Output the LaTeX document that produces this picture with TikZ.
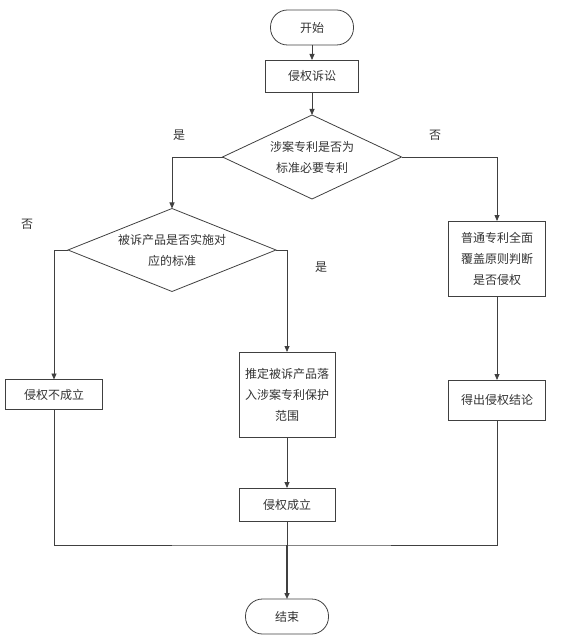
\documentclass[tikz,border=0pt]{standalone}
\usepackage{fontspec}
\newfontfamily\cjk{Noto Sans CJK SC}
\usetikzlibrary{shapes.geometric, positioning, arrows.meta}

\begin{document}
\begin{tikzpicture}[
        x=1pt, y=-1pt, line width=0.8pt,
        every node/.style={font=\cjk\fontsize{12pt}{21pt}\selectfont, align=center, text=black!80, outer sep=0pt},
        terminal/.style={rectangle, draw=black!75, rounded corners=17pt, minimum width=83pt, minimum height=35pt},
        process/.style={rectangle, draw=black!75, minimum width=96pt, minimum height=32pt},
        decision/.style={diamond, draw=black!75, inner sep=0pt, aspect=2.2},
        lbl/.style={inner sep=0pt},
        arrow/.style={-{Triangle[length=6pt, width=5pt]}, draw=black!75},
        line/.style={-, draw=black!75}
    ]
    \useasboundingbox (0,0) rectangle (587,644);
%
    % Debut et saisine
    \node[terminal] (start) at (312,27.5) {开始};
    \node[process, minimum width=93pt, below=15pt of start] (suit) {侵权诉讼};
%
    % Decisions
    \node[decision, minimum width=179pt, minimum height=84pt, below=23pt of suit] (patent) {涉案专利是否为\\标准必要专利};
    \node[decision, minimum width=208pt, minimum height=83pt] (product) at (172,250) {被诉产品是否实施对\\应的标准};
    \node[process, minimum width=97pt, minimum height=75pt] (general) at (497,258.5) {普通专利全面\\覆盖原则判断\\是否侵权};
%
    % Labels des branches
    \node[lbl] (yes1) at (179,135) {是};
    \node[lbl] (no1) at (435,135) {否};
    \node[lbl] (no2) at (27,224) {否};
    \node[lbl] (yes2) at (321,267) {是};
%
    % Resultats
    \node[process, minimum width=97pt, minimum height=30pt] (noinf) at (54,394.5) {侵权不成立};
    \node[process, minimum width=96pt, minimum height=85pt] (scope) at (287,394.5) {推定被诉产品落\\入涉案专利保护\\范围};
    \node[process, minimum width=97pt, minimum height=40pt] (result) at (497,400) {得出侵权结论};
    \node[process, minimum height=33pt, below=51pt of scope] (inf) {侵权成立};
%
    % Fin
    \coordinate[below=24pt of inf] (join);
    \node[terminal, below=54pt of join] (end) {结束};
%
    % Lignes
    \draw[arrow] (start) -- (suit);
    \draw[arrow] (suit) -- (patent);
    \draw[arrow] (patent.west) -| (product.north);
    \draw[arrow] (patent.east) -| (general.north);
    \draw[arrow] (product.west) -| (noinf.north);
    \draw[arrow] (product.east) -| (scope.north);
    \draw[arrow] (general) -- (result);
    \draw[arrow] (scope) -- (inf);
    \draw[line] (noinf.south) |- (join) -| (result.south);
    \draw[line] (inf) -- (join);
    \draw[arrow, line width=1.4pt] (join) -- (end);
%
\end{tikzpicture}
\end{document}
